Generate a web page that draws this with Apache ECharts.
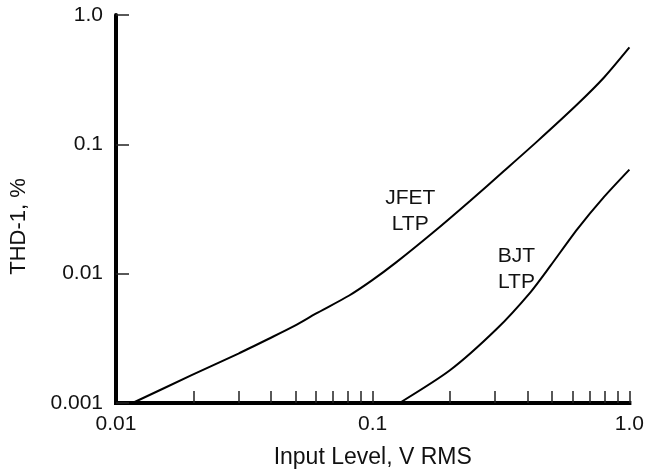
<!DOCTYPE html>
<html><head><meta charset="utf-8">
<script src="https://cdn.jsdelivr.net/npm/echarts@6/dist/echarts.min.js"></script>
<style>html,body{margin:0;padding:0;background:#fff}#c{width:647px;height:474px}</style>
</head><body><div id="c"></div>
<script>
// Data (log-log)
const jfetX = [0.0116, 0.0197, 0.030, 0.0394, 0.050, 0.060, 0.081, 0.099, 0.1234, 0.1718, 0.2393, 0.3236, 0.4375, 0.627, 0.798, 1.0];
const jfetY = [0.001, 0.00164, 0.00241, 0.00314, 0.00398, 0.0049, 0.00678, 0.00883, 0.01222, 0.0208, 0.0365, 0.0619, 0.1054, 0.204, 0.33, 0.561];
const bjtX = [0.1272, 0.1999, 0.3046, 0.4115, 0.493, 0.627, 0.798, 1.0];
const bjtY = [0.001, 0.00179, 0.00375, 0.00718, 0.01153, 0.0221, 0.0394, 0.0638];

const xTickValues = [0.01, 0.1, 1];
const xTickLabels = ['0.01', '0.1', '1.0'];
const xMinorTicks = [0.02,0.03,0.04,0.05,0.06,0.07,0.08,0.09,0.1,0.2,0.3,0.4,0.5,0.6,0.7,0.8,0.9,1.0];
const yTickValues = [0.001, 0.01, 0.1, 1];
const yTickLabels = ['0.001', '0.01', '0.1', '1.0'];

const curveNames = ['JFET\nLTP', 'BJT\nLTP'];
const annotX = [0.140, 0.363];
const annotY = [0.0302, 0.0108];

const FONT = '"Liberation Sans", Arial, Helvetica, sans-serif';
function fmt(values, labels) {
  return function (v) {
    for (let i = 0; i < values.length; i++) {
      if (Math.abs(Math.log10(v) - Math.log10(values[i])) < 1e-6) return labels[i];
    }
    return '';
  };
}
function pairs(xs, ys) { return xs.map((x, i) => [x, ys[i]]); }

const chart = echarts.init(document.getElementById('c'), null, {renderer: 'canvas'});
const seriesData = [pairs(jfetX, jfetY), pairs(bjtX, bjtY)];
chart.setOption({
  animation: false,
  backgroundColor: '#fff',
  grid: {left: 113, right: 16, top: 15, bottom: 70, containLabel: false},
  xAxis: {
    type: 'log', logBase: 10, min: 0.01, max: 1, interval: 1,
    name: 'Input Level, V RMS', nameLocation: 'middle', nameGap: 43,
    nameTextStyle: {fontFamily: FONT, fontSize: 23, color: '#111'},
    axisLine: {show: true, lineStyle: {color: '#000', width: 4, cap: 'square'}},
    axisTick: {show: true, inside: true, length: 12, customValues: xMinorTicks, lineStyle: {color: '#222', width: 1.5}},
    minorTick: {show: false},
    axisLabel: {fontFamily: FONT, fontSize: 21, color: '#111', margin: 11, formatter: fmt(xTickValues, xTickLabels)},
    splitLine: {show: false}
  },
  yAxis: {
    type: 'log', logBase: 10, min: 0.001, max: 1, interval: 1,
    name: 'THD-1, %', nameLocation: 'middle', nameGap: 86, nameRotate: 90,
    nameTextStyle: {fontFamily: FONT, fontSize: 22, color: '#111', padding: [0, 35, 0, 0]},
    axisLine: {show: true, lineStyle: {color: '#000', width: 4}},
    axisTick: {show: true, inside: true, length: 13, lineStyle: {color: '#222', width: 1.5}},
    axisLabel: {fontFamily: FONT, fontSize: 21, color: '#111', margin: 13, formatter: fmt(yTickValues, yTickLabels)},
    splitLine: {show: false}
  },
  series: seriesData.map((d, i) => ({
    type: 'line', data: d, smooth: 0.25, showSymbol: false, symbol: 'none',
    lineStyle: {color: '#000', width: 2},
    markPoint: {
      symbol: 'circle', symbolSize: 0,
      data: [{coord: [annotX[i], annotY[i]], value: curveNames[i]}],
      label: {show: true, position: 'inside', formatter: curveNames[i], fontFamily: FONT, fontSize: 21, color: '#111', lineHeight: 26, align: 'center', verticalAlign: 'middle'}
    }
  }))
});
</script></body></html>
